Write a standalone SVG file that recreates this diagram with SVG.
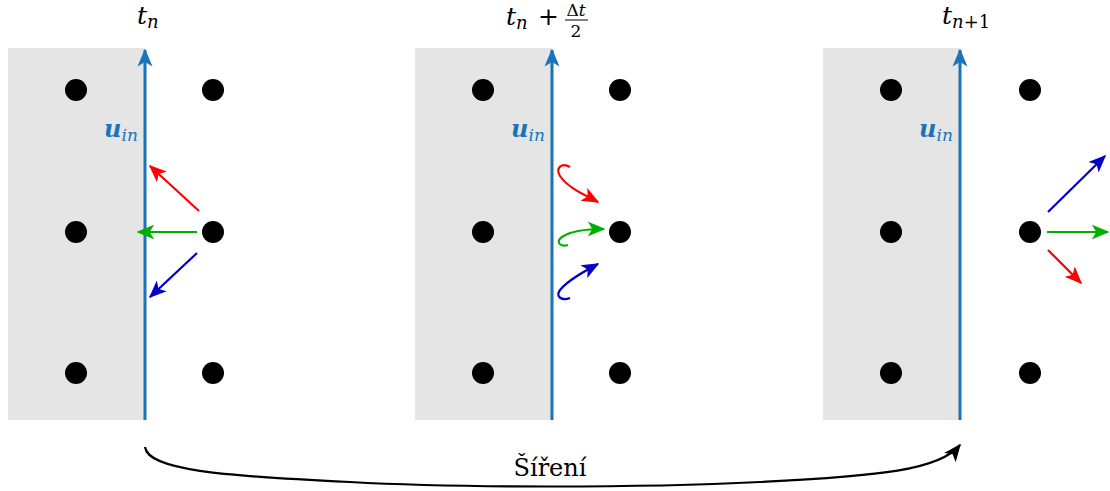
<svg xmlns="http://www.w3.org/2000/svg" width="1110" height="491" viewBox="0 0 1110 491">
<style>
.bg{fill:#e5e5e5}
.ax{stroke:#1a75b8;stroke-width:3;fill:none}
.dot{fill:#000}
.tx{font-family:"DejaVu Serif",serif;fill:#000}
.ui{font-family:"DejaVu Serif",serif;fill:#1a75b8;font-style:italic}
.r{stroke:#ff0000;stroke-width:2.2;fill:none}
.g{stroke:#00b000;stroke-width:2.2;fill:none}
.b{stroke:#0000c8;stroke-width:2.2;fill:none}
.k{stroke:#000;stroke-width:2.2;fill:none}
</style>
<defs>
<marker id="mr" viewBox="0 0 12 10" refX="11" refY="5" markerWidth="8" markerHeight="7" orient="auto" markerUnits="strokeWidth"><path d="M0,0 L12,5 L0,10 L3,5 Z" fill="#ff0000"/></marker>
<marker id="mg" viewBox="0 0 12 10" refX="11" refY="5" markerWidth="8" markerHeight="7" orient="auto" markerUnits="strokeWidth"><path d="M0,0 L12,5 L0,10 L3,5 Z" fill="#00b000"/></marker>
<marker id="mb" viewBox="0 0 12 10" refX="11" refY="5" markerWidth="8" markerHeight="7" orient="auto" markerUnits="strokeWidth"><path d="M0,0 L12,5 L0,10 L3,5 Z" fill="#0000c8"/></marker>
<marker id="mk" viewBox="0 0 12 10" refX="11" refY="5" markerWidth="8" markerHeight="7" orient="auto" markerUnits="strokeWidth"><path d="M0,0 L12,5 L0,10 L3,5 Z" fill="#000"/></marker>
<marker id="max" viewBox="0 0 12 10" refX="11" refY="5" markerWidth="6" markerHeight="6" orient="auto" markerUnits="strokeWidth"><path d="M0,0 L12,5 L0,10 L3,5 Z" fill="#1a75b8"/></marker>
</defs>

<g id="panel1">
<rect class="bg" x="8" y="48" width="137" height="372"/>
<line class="ax" x1="145" y1="420" x2="145" y2="50" marker-end="url(#max)"/>
<text class="tx" x="137" y="24" font-size="25"><tspan font-style="italic">t</tspan><tspan font-style="italic" font-size="18" dy="4">n</tspan></text>
<text class="ui" x="104" y="137"><tspan font-weight="bold" font-size="24">u</tspan><tspan font-size="17" dy="4">in</tspan></text>
<circle class="dot" cx="76" cy="90" r="11"/><circle class="dot" cx="213" cy="90" r="11"/>
<circle class="dot" cx="76" cy="232" r="11"/><circle class="dot" cx="213" cy="232" r="11"/>
<circle class="dot" cx="76" cy="373" r="11"/><circle class="dot" cx="213" cy="373" r="11"/>
</g>

<g id="panel2">
<rect class="bg" x="415" y="48" width="137" height="372"/>
<line class="ax" x1="552" y1="420" x2="552" y2="50" marker-end="url(#max)"/>
<text class="tx" x="506" y="25" font-size="25"><tspan font-style="italic">t</tspan><tspan font-style="italic" font-size="18" dy="4">n</tspan><tspan dy="-4" x="538">+</tspan></text>
<text class="tx" x="576" y="16" font-size="17" text-anchor="middle">Δ<tspan font-style="italic">t</tspan></text>
<line x1="565" y1="20" x2="588" y2="20" stroke="#000" stroke-width="1"/>
<text class="tx" x="576" y="37" font-size="17" text-anchor="middle">2</text>
<text class="ui" x="511" y="137"><tspan font-weight="bold" font-size="24">u</tspan><tspan font-size="17" dy="4">in</tspan></text>
<circle class="dot" cx="483" cy="90" r="11"/><circle class="dot" cx="620" cy="90" r="11"/>
<circle class="dot" cx="483" cy="232" r="11"/><circle class="dot" cx="620" cy="232" r="11"/>
<circle class="dot" cx="483" cy="373" r="11"/><circle class="dot" cx="620" cy="373" r="11"/>
</g>

<g id="panel3">
<rect class="bg" x="823" y="48" width="137" height="372"/>
<line class="ax" x1="960" y1="420" x2="960" y2="50" marker-end="url(#max)"/>
<text class="tx" x="942" y="24" font-size="25"><tspan font-style="italic">t</tspan><tspan font-size="18" dy="4"><tspan font-style="italic">n</tspan>+1</tspan></text>
<text class="ui" x="919" y="137"><tspan font-weight="bold" font-size="24">u</tspan><tspan font-size="17" dy="4">in</tspan></text>
<circle class="dot" cx="891" cy="90" r="11"/><circle class="dot" cx="1030" cy="90" r="11"/>
<circle class="dot" cx="891" cy="232" r="11"/><circle class="dot" cx="1030" cy="232" r="11"/>
<circle class="dot" cx="891" cy="373" r="11"/><circle class="dot" cx="1030" cy="373" r="11"/>
</g>

<g id="connectors">
<line class="r" x1="199" y1="211" x2="150" y2="166" marker-end="url(#mr)"/>
<line class="g" x1="197" y1="232" x2="138" y2="232" marker-end="url(#mg)"/>
<line class="b" x1="197" y1="253" x2="150" y2="297" marker-end="url(#mb)"/>

<path class="r" d="M570,167 C562,162 555,168 560,176 C568,188 585,195 598,202" marker-end="url(#mr)"/>
<path class="g" d="M568,245 C560,247 555,242 562,237 C572,230 590,229 604,229" marker-end="url(#mg)"/>
<path class="b" d="M570,298 C562,301 555,297 560,290 C568,280 585,271 598,264" marker-end="url(#mb)"/>

<line class="b" x1="1048" y1="212" x2="1105" y2="156" marker-end="url(#mb)"/>
<line class="g" x1="1047" y1="232" x2="1108" y2="232" marker-end="url(#mg)"/>
<line class="r" x1="1048" y1="250" x2="1081" y2="283" marker-end="url(#mr)"/>

<path class="k" d="M145,447 C148,470 220,476 350,482 C460,488 640,488 760,482 C880,476 940,470 960,445" marker-end="url(#mk)"/>
</g>
<text class="tx" x="550" y="476" text-anchor="middle" font-size="24">Šíření</text>
</svg>
